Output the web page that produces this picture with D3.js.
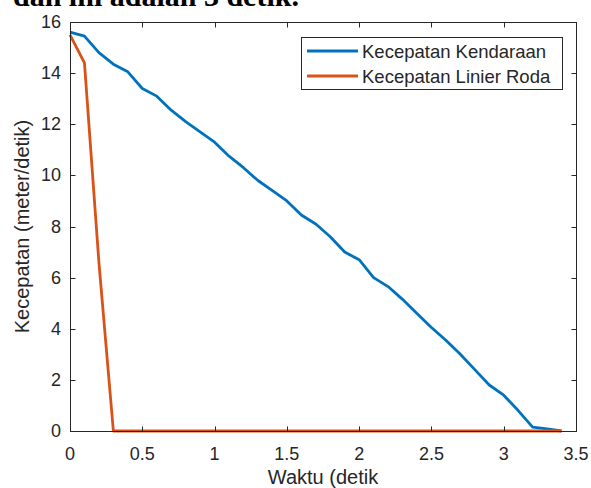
<!DOCTYPE html>
<html>
<head>
<meta charset="utf-8">
<script src="https://cdn.jsdelivr.net/npm/d3@7"></script>
<style>
  body { margin: 0; background: #fff; }
  text { font-family: "Liberation Sans", Arial, sans-serif; fill: #262626; }
  .caption { font-family: "Liberation Serif", "Times New Roman", serif; font-weight: bold; fill: #000; }
</style>
</head>
<body>
<div id="chart"></div>
<script>
// waktu (detik), step 0.1
var waktu = [0, 0.1, 0.2, 0.3, 0.4, 0.5, 0.6, 0.7, 0.8, 0.9, 1.0, 1.1, 1.2, 1.3, 1.4, 1.5, 1.6,
  1.7, 1.8, 1.9, 2.0, 2.1, 2.2, 2.3, 2.4, 2.5, 2.6, 2.7, 2.8, 2.9, 3.0, 3.1, 3.2, 3.3, 3.4];
var kendaraan = [15.6, 15.45, 14.8, 14.35, 14.05, 13.4, 13.1, 12.55, 12.1, 11.7, 11.3, 10.75, 10.3,
  9.8, 9.4, 9.0, 8.45, 8.1, 7.6, 7.0, 6.7, 6.0, 5.65, 5.15, 4.6, 4.05, 3.55, 3.0, 2.4, 1.8, 1.4,
  0.8, 0.15, 0.08, 0.0];
var roda = [15.5, 14.4, 6.6, 0, 0, 0, 0, 0, 0, 0, 0, 0, 0, 0, 0, 0, 0, 0, 0, 0, 0, 0, 0, 0, 0,
  0, 0, 0, 0, 0, 0, 0, 0, 0, 0];
var seriesNames = ["Kecepatan Kendaraan", "Kecepatan Linier Roda"];
var xTicks = [0, 0.5, 1, 1.5, 2, 2.5, 3, 3.5];
var yTicks = [0, 2, 4, 6, 8, 10, 12, 14, 16];

function draw() {
  var width = 591, height = 488;
  var pl = 70, pr = 576, pt = 22, pb = 431;
  var colors = ["#0072BD", "#D95319"];
  var axisCol = "#262626";

  var svg = d3.select("#chart").append("svg")
      .attr("width", width)
      .attr("height", height);

  // cut-off caption line above the figure
  svg.append("text")
      .attr("class", "caption")
      .attr("x", 13)
      .attr("y", 6)
      .style("font-size", "30px")
      .text("dan ini adalah 3 detik.");

  var x = d3.scaleLinear().domain([0, 3.5]).range([pl, pr]);
  var y = d3.scaleLinear().domain([0, 16]).range([pb, pt]);

  var line = d3.line()
      .x(function(d) { return x(d[0]); })
      .y(function(d) { return y(d[1]); });

  var data = [d3.zip(waktu, kendaraan), d3.zip(waktu, roda)];

  svg.selectAll("path.series")
      .data(data)
      .enter()
      .append("path")
      .attr("class", "series")
      .attr("d", line)
      .attr("fill", "none")
      .attr("stroke", function(d, i) { return colors[i]; })
      .attr("stroke-width", 2.8)
      .attr("stroke-linejoin", "round");

  // box
  svg.append("rect")
      .attr("x", pl + 0.5).attr("y", pt + 0.5)
      .attr("width", pr - pl).attr("height", pb - pt)
      .attr("fill", "none").attr("stroke", axisCol).attr("stroke-width", 1);

  // ticks inside, on all four sides
  var tl = 5;
  xTicks.forEach(function(t) {
    var px = Math.round(x(t)) + 0.5;
    svg.append("line").attr("x1", px).attr("x2", px).attr("y1", pb + 0.5).attr("y2", pb + 0.5 - tl)
      .attr("stroke", axisCol);
    svg.append("line").attr("x1", px).attr("x2", px).attr("y1", pt + 0.5).attr("y2", pt + 0.5 + tl)
      .attr("stroke", axisCol);
    svg.append("text").attr("x", x(t)).attr("y", pb + 29)
      .attr("text-anchor", "middle").style("font-size", "18px").text(t);
  });
  yTicks.forEach(function(t) {
    var py = Math.round(y(t)) + 0.5;
    svg.append("line").attr("x1", pl + 0.5).attr("x2", pl + 0.5 + tl).attr("y1", py).attr("y2", py)
      .attr("stroke", axisCol);
    svg.append("line").attr("x1", pr + 0.5).attr("x2", pr + 0.5 - tl).attr("y1", py).attr("y2", py)
      .attr("stroke", axisCol);
    svg.append("text").attr("x", pl - 9).attr("y", y(t) + 6)
      .attr("text-anchor", "end").style("font-size", "18px").text(t);
  });

  svg.append("text")
      .attr("x", (pl + pr) / 2).attr("y", 484)
      .attr("text-anchor", "middle").style("font-size", "20px")
      .text("Waktu (detik");

  svg.append("text")
      .attr("transform", "translate(29," + ((pt + pb) / 2) + ") rotate(-90)")
      .attr("text-anchor", "middle").style("font-size", "20px")
      .text("Kecepatan (meter/detik)");

  // legend
  var lg = svg.append("g").attr("class", "legend");
  lg.append("rect")
      .attr("x", 301.5).attr("y", 37.5).attr("width", 261).attr("height", 52)
      .attr("fill", "#fff").attr("stroke", axisCol);
  seriesNames.forEach(function(name, i) {
    var cy = 51 + i * 25;
    lg.append("line").attr("x1", 307).attr("x2", 358).attr("y1", cy).attr("y2", cy)
      .attr("stroke", colors[i]).attr("stroke-width", 2.8);
    lg.append("text").attr("x", 362).attr("y", cy + 6.5)
      .style("font-size", "18.5px").text(name);
  });
}
draw();
</script>
</body>
</html>
